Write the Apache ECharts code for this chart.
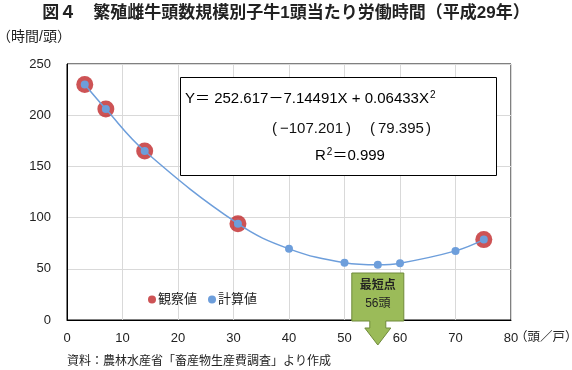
<!DOCTYPE html>
<html><head><meta charset="utf-8">
<script src="https://cdn.jsdelivr.net/npm/echarts@6/dist/echarts.min.js"></script>
<style>html,body{margin:0;padding:0;background:#fff}#c{width:572px;height:370px}</style>
</head><body><div id="c"></div>
<script>
const titleText = '図４　繁殖雌牛頭数規模別子牛1頭当たり労働時間（平成29年）';
const yAxisName = '（時間/頭）';
const xAxisName = '（頭／戸）';
const sourceText = '資料：農林水産省「畜産物生産費調査」より作成';
const seriesNames = ['観察値', '計算値'];
const obsX = [3.2, 7.0, 14.0, 30.8, 75.1];
const obsY = [230, 206, 165, 94, 78.5];
const calcX = [3.2, 7.0, 14.0, 30.8, 40, 50, 56, 60, 70, 75.1];
const calcY = [230, 206, 165, 94, 69.5, 56, 54, 55.5, 67.5, 78.5];
const minPointX = 56;
const eqLine1 = 'Y＝ 252.617－7.14491X + 0.06433X';
const eqTval1 = '−107.201';
const eqTval2 = '79.395';
const eqLine3a = 'R';
const eqLine3b = '＝0.999';
const calloutLines = ['最短点', '56頭'];

const FF = "'Liberation Sans','Noto Sans CJK JP',sans-serif";
const chart = echarts.init(document.getElementById('c'));
const option = {
  animation: false,
  textStyle: {fontFamily: FF},
  grid: {left: 67, right: 61, top: 64, bottom: 50, show: true, borderColor: '#000', borderWidth: 1},
  xAxis: {type: 'value', min: 0, max: 80, interval: 10,
    axisLine: {lineStyle: {color: '#000'}}, axisTick: {show: false},
    axisLabel: {color: '#222', fontSize: 13, margin: 12, fontFamily: FF},
    splitLine: {lineStyle: {color: '#d9d9d9'}}},
  yAxis: {type: 'value', min: 0, max: 250, interval: 50,
    axisLine: {show: true, lineStyle: {color: '#000'}}, axisTick: {show: false},
    axisLabel: {color: '#222', fontSize: 13, margin: 16, fontFamily: FF},
    splitLine: {lineStyle: {color: '#d9d9d9'}}},
  legend: {left: 143, top: 288, itemGap: 11, itemWidth: 8, itemHeight: 8, icon: 'circle',
    textStyle: {fontSize: 13, color: '#222', fontFamily: FF, padding: [0, 0, 0, -3]}, data: seriesNames},
  series: [
    {name: seriesNames[0], type: 'scatter', symbolSize: 17, itemStyle: {color: '#c0282a'},
      data: obsX.map((x, i) => [x, obsY[i]]), z: 2},
    {name: seriesNames[1], type: 'line', smooth: 0.4, symbol: 'circle', symbolSize: 8,
      itemStyle: {color: '#6d9edb'}, lineStyle: {color: '#6d9edb', width: 1.5},
      data: calcX.map((x, i) => [x, calcY[i]]), z: 3}
  ]
};
chart.setOption(option);

const p = chart.convertToPixel({gridIndex: 0}, [minPointX, 0]);
const cx = p[0], by = p[1];
const arrow = [
  [cx - 26, by - 47], [cx + 26, by - 47], [cx + 26, by + 1], [cx + 8, by + 1], [cx + 8, by + 8],
  [cx + 13, by + 8], [cx, by + 25], [cx - 13, by + 8], [cx - 8, by + 8], [cx - 8, by + 1], [cx - 26, by + 1]
];
const eqRich = {
  m: {fontSize: 15, fontFamily: FF, color: '#111', lineHeight: 18},
  s: {fontSize: 10, fontFamily: FF, color: '#111', lineHeight: 18, verticalAlign: 'top', padding: [0, 0, 5, 1]}
};
const eqFont = "15px " + FF;
function eqText(x, y, t) {
  return {type: 'text', x: x, y: y, style: {text: t, font: eqFont, fill: '#111'}, z: 11};
}
chart.setOption({
  graphic: [
    {type: 'text', left: 'center', top: 5, style: {text: titleText, font: "bold 17px " + FF, fill: '#222'}},
    {type: 'text', left: -3, top: 30, style: {text: yAxisName, font: "14px " + FF, fill: '#222'}},
    {type: 'text', left: 515, top: 331, style: {text: xAxisName, font: "12.5px " + FF, fill: '#222'}},
    {type: 'text', left: 67, top: 356, style: {text: sourceText, font: "12px " + FF, fill: '#222'}},
    {type: 'rect', shape: {x: 180.5, y: 77.5, width: 316, height: 98}, style: {fill: '#fff', stroke: '#000', lineWidth: 1}, z: 10},
    {type: 'text', x: 185, y: 90, style: {text: '{m|' + eqLine1 + '}{s|2}', rich: eqRich}, z: 11},
    eqText(272, 121, '('), eqText(280, 121, eqTval1), eqText(346, 121, ')'),
    eqText(370, 121, '('), eqText(378, 121, eqTval2), eqText(426, 121, ')'),
    {type: 'text', x: 350, y: 147, style: {text: '{m|' + eqLine3a + '}{s|2}{m|' + eqLine3b + '}', rich: eqRich, align: 'center'}, z: 11},
    {type: 'polygon', shape: {points: arrow}, style: {fill: '#9bbb59', stroke: '#6f8a3a', lineWidth: 1}, z: 20},
    {type: 'text', x: cx, y: by - 40, style: {text: calloutLines[0], font: "bold 12px " + FF, fill: '#222', align: 'center'}, z: 21},
    {type: 'text', x: cx, y: by - 22, style: {text: calloutLines[1], font: "12px " + FF, fill: '#222', align: 'center'}, z: 21}
  ]
});
</script></body></html>
